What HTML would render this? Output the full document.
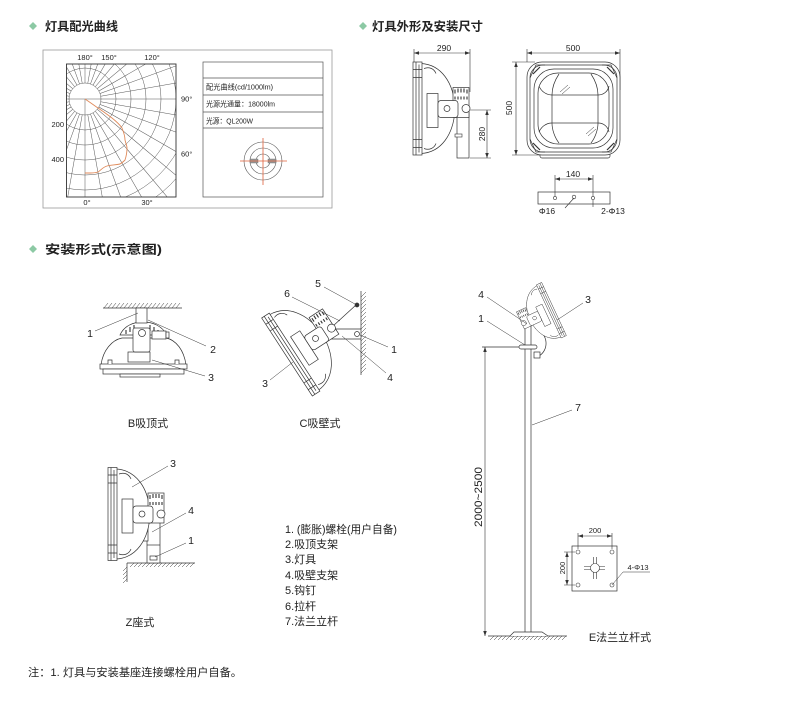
<!DOCTYPE html>
<html><head><meta charset="utf-8">
<style>
html,body{margin:0;padding:0;background:#fff;}
svg{display:block;}
text{font-family:"Liberation Sans","Noto Sans CJK SC",sans-serif;fill:#222;}
.cj{font-family:"Liberation Sans","Noto Sans CJK SC",sans-serif;}
</style></head><body>
<svg width="806" height="710" viewBox="0 0 806 710" xmlns="http://www.w3.org/2000/svg">
<defs>
<marker id="ar" viewBox="0 0 10 10" refX="10" refY="5" markerWidth="5" markerHeight="5" markerUnits="userSpaceOnUse" orient="auto-start-reverse"><path d="M0,1.5 L10,5 L0,8.5z" fill="#333"/></marker>
<clipPath id="pc"><rect x="66.5" y="64" width="109.5" height="133"/></clipPath>
<g id="lamp" stroke="#333" stroke-width="0.7">
  <path d="M8,-45 C28,-44 41,-26 42,0 C41,26 28,44 8,45 Z" fill="#fff"/>
  <path d="M11,-40 C16,-42 21,-40 23,-35 M11,40 C16,42 21,40 23,35" fill="none"/>
  <rect x="14" y="-15" width="11" height="34" fill="none"/>
  <rect x="0" y="-46.5" width="9" height="93" fill="#fff"/>
  <path d="M3,-46.5 V46.5 M6,-44 V44 M0,-39 H9 M0,-31 H9 M0,31 H9 M0,39 H9" fill="none"/>
  <rect x="40" y="-21" width="16" height="30" fill="#fff"/>
  <path d="M42,-19 v4 M45,-20 v4 M48,-20 v4 M51,-20 v4 M54,-19 v4 M42,-12 v3 M45,-12 v3 M48,-12 v3 M51,-12 v3 M54,-12 v3" fill="none" stroke-width="1.1"/>
  <rect x="25" y="-8" width="20" height="17" rx="3" fill="#fff"/>
  <circle cx="34" cy="0" r="3" fill="#fff"/>
  <circle cx="53" cy="0" r="4" fill="#fff"/>
</g>
</defs>

<!-- ===== Titles ===== -->
<polygon points="33,22 37,26 33,30 29,26" fill="#8cc9a4"/>
<text x="45" y="30.5" font-size="12" font-weight="bold" textLength="73" lengthAdjust="spacingAndGlyphs">灯具配光曲线</text>
<polygon points="363,22 367,26 363,30 359,26" fill="#8cc9a4"/>
<text x="372" y="30.5" font-size="12" font-weight="bold" textLength="111" lengthAdjust="spacingAndGlyphs">灯具外形及安装尺寸</text>
<polygon points="33,245 37,249 33,253 29,249" fill="#8cc9a4"/>
<text x="45" y="253.5" font-size="12" font-weight="bold" textLength="117" lengthAdjust="spacingAndGlyphs">安装形式(示意图)</text>

<!-- ===== Polar chart ===== -->
<rect x="43" y="50" width="289" height="158" fill="none" stroke="#999" stroke-width="0.8"/>
<g clip-path="url(#pc)" stroke="#555" stroke-width="0.5" fill="none">
  <circle cx="85" cy="99" r="16"/><circle cx="85" cy="99" r="31"/><circle cx="85" cy="99" r="46"/>
  <circle cx="85" cy="99" r="61"/><circle cx="85" cy="99" r="76"/><circle cx="85" cy="99" r="91"/>
  <circle cx="85" cy="99" r="106"/><circle cx="85" cy="99" r="121"/><circle cx="85" cy="99" r="136"/>
  <line x1="85" y1="99" x2="85" y2="300"/>
  <line x1="85" y1="99" x2="300" y2="99"/>
  <line x1="85" y1="99" x2="-100" y2="99"/>
  <line x1="85" y1="115" x2="85" y2="300" transform="rotate(10 85 99)"/>
  <line x1="85" y1="115" x2="85" y2="300" transform="rotate(20 85 99)"/>
  <line x1="85" y1="115" x2="85" y2="300" transform="rotate(30 85 99)"/>
  <line x1="85" y1="115" x2="85" y2="300" transform="rotate(40 85 99)"/>
  <line x1="85" y1="115" x2="85" y2="300" transform="rotate(50 85 99)"/>
  <line x1="85" y1="115" x2="85" y2="300" transform="rotate(60 85 99)"/>
  <line x1="85" y1="115" x2="85" y2="300" transform="rotate(70 85 99)"/>
  <line x1="85" y1="115" x2="85" y2="300" transform="rotate(80 85 99)"/>
  <line x1="85" y1="115" x2="85" y2="300" transform="rotate(100 85 99)"/>
  <line x1="85" y1="115" x2="85" y2="300" transform="rotate(110 85 99)"/>
  <line x1="85" y1="115" x2="85" y2="300" transform="rotate(120 85 99)"/>
  <line x1="85" y1="115" x2="85" y2="300" transform="rotate(130 85 99)"/>
  <line x1="85" y1="115" x2="85" y2="300" transform="rotate(140 85 99)"/>
  <line x1="85" y1="115" x2="85" y2="300" transform="rotate(150 85 99)"/>
  <line x1="85" y1="115" x2="85" y2="300" transform="rotate(160 85 99)"/>
  <line x1="85" y1="115" x2="85" y2="300" transform="rotate(170 85 99)"/>
  <line x1="85" y1="115" x2="85" y2="300" transform="rotate(180 85 99)"/>
  <line x1="85" y1="115" x2="85" y2="300" transform="rotate(190 85 99)"/>
  <line x1="85" y1="115" x2="85" y2="300" transform="rotate(200 85 99)"/>
  <line x1="85" y1="115" x2="85" y2="300" transform="rotate(210 85 99)"/>
  <line x1="85" y1="115" x2="85" y2="300" transform="rotate(220 85 99)"/>
  <line x1="85" y1="115" x2="85" y2="300" transform="rotate(230 85 99)"/>
  <line x1="85" y1="115" x2="85" y2="300" transform="rotate(240 85 99)"/>
  <line x1="85" y1="115" x2="85" y2="300" transform="rotate(250 85 99)"/>
  <line x1="85" y1="115" x2="85" y2="300" transform="rotate(260 85 99)"/>
  <line x1="85" y1="115" x2="85" y2="300" transform="rotate(280 85 99)"/>
  <line x1="85" y1="115" x2="85" y2="300" transform="rotate(290 85 99)"/>
  <line x1="85" y1="115" x2="85" y2="300" transform="rotate(300 85 99)"/>
  <line x1="85" y1="115" x2="85" y2="300" transform="rotate(310 85 99)"/>
  <line x1="85" y1="115" x2="85" y2="300" transform="rotate(320 85 99)"/>
  <line x1="85" y1="115" x2="85" y2="300" transform="rotate(330 85 99)"/>
  <line x1="85" y1="115" x2="85" y2="300" transform="rotate(340 85 99)"/>
  <line x1="85" y1="115" x2="85" y2="300" transform="rotate(350 85 99)"/>
</g>
<rect x="66.5" y="64" width="109.5" height="133" fill="none" stroke="#333" stroke-width="0.9"/>
<path d="M85,99 C91,103 95,106 98,108 C104,112 108,115 112,118 C117,122 120,125 122,128 C124,133 125,137 125,140 C126,144 127,146 127,148 C127,153 126,157 125,160 C123,162 122,163 120,164 C115,165 111,165 107,166 C103,167 101,170 98,172 C95,173 92,173 90,173 L85,173" fill="none" stroke="#e08a5a" stroke-width="0.9"/>
<g font-size="7.5">
<text x="85" y="60" text-anchor="middle">180°</text>
<text x="109" y="60" text-anchor="middle">150°</text>
<text x="152" y="60" text-anchor="middle">120°</text>
<text x="181" y="101.5">90°</text>
<text x="181" y="156.5">60°</text>
<text x="64" y="127" text-anchor="end">200</text>
<text x="64" y="162" text-anchor="end">400</text>
<text x="87" y="205" text-anchor="middle">0°</text>
<text x="147" y="205" text-anchor="middle">30°</text>
</g>
<!-- table -->
<rect x="203" y="62" width="120" height="135" fill="none" stroke="#555" stroke-width="0.7"/>
<path d="M203,78 H323 M203,95 H323 M203,112 H323 M203,128 H323" stroke="#555" stroke-width="0.7"/>
<g font-size="7.2">
<text x="206" y="89.5" textLength="67" lengthAdjust="spacingAndGlyphs">配光曲线(cd/1000lm)</text>
<text x="206" y="106.5" textLength="69" lengthAdjust="spacingAndGlyphs">光源光通量：18000lm</text>
<text x="206" y="123.5" textLength="47" lengthAdjust="spacingAndGlyphs">光源：QL200W</text>
</g>
<g fill="none" stroke="#555" stroke-width="0.6">
<circle cx="263" cy="161" r="19"/><circle cx="263" cy="161" r="13"/><circle cx="263" cy="161" r="7"/>
</g>
<rect x="250" y="159" width="8" height="4" fill="#999" stroke="#666" stroke-width="0.4"/>
<rect x="268" y="159" width="8" height="4" fill="#999" stroke="#666" stroke-width="0.4"/>
<path d="M240,161 H287 M263,138 V185" stroke="#e0603a" stroke-width="0.8"/>

<!-- ===== Side view ===== -->
<g fill="none" stroke="#333" stroke-width="0.6">
<line x1="414" y1="53" x2="470" y2="53" marker-start="url(#ar)" marker-end="url(#ar)"/>
<path d="M414,49 V62 M470,49 V92"/>
<line x1="487" y1="110" x2="487" y2="158" marker-start="url(#ar)" marker-end="url(#ar)"/>
<path d="M470,110 H491 M470,158 H491"/>
</g>
<rect x="457" y="112" width="12" height="46" fill="#fff" stroke="#333" stroke-width="0.7"/>
<rect x="455" y="134" width="7" height="3" fill="#fff" stroke="#333" stroke-width="0.6"/>
<use href="#lamp" transform="translate(413,108.5)"/>
<g font-size="8.5">
<text x="444" y="51" text-anchor="middle">290</text>
<text x="0" y="0" text-anchor="middle" transform="translate(485,134) rotate(-90)">280</text>
</g>

<!-- ===== Front view ===== -->
<g fill="none" stroke="#333" stroke-width="0.6">
<line x1="527" y1="53" x2="620" y2="53" marker-start="url(#ar)" marker-end="url(#ar)"/>
<path d="M527,49 V62 M620,49 V90"/>
<line x1="516" y1="62" x2="516" y2="155" marker-start="url(#ar)" marker-end="url(#ar)"/>
<path d="M512,62 H535 M512,155 H540"/>
</g>
<rect x="540" y="152" width="70" height="6" rx="2" fill="#fff" stroke="#333" stroke-width="0.7"/>
<g stroke="#333" stroke-width="0.7" fill="none">
<rect x="527" y="62" width="93" height="93" rx="15" fill="#fff"/>
<rect x="530" y="65" width="87" height="87" rx="13"/>
<rect x="534" y="69" width="79" height="79" rx="20"/>
<rect x="538" y="73" width="71" height="71" rx="20"/>
<rect x="552" y="95" width="46" height="28"/>
<path d="M552,95 C546,95 541,91 539,86 M552,123 C546,123 541,127 539,132 M598,95 C604,95 608,91 609,86 M598,123 C604,123 608,127 609,132"/>
<path d="M552,95 C552,88 555,80 559,74 M598,95 C598,88 595,80 591,74 M552,123 C552,130 555,138 559,143 M598,123 C598,130 595,138 591,143"/>
<path d="M530,78 L536,65 L545,65 M617,78 L611,65 L602,65 M530,139 L536,152 L545,152 M617,139 L611,152 L602,152"/>
<path d="M533,74 L540,67 M614,74 L607,67 M533,143 L540,150 M614,143 L607,150" stroke-width="1.2"/>
<path d="M560,92 L568,85 M562,94 L570,87 M586,134 L594,127 M588,136 L596,129" stroke-width="0.5"/>
</g>
<g font-size="8.5">
<text x="573" y="51" text-anchor="middle">500</text>
<text x="0" y="0" text-anchor="middle" transform="translate(512,108) rotate(-90)">500</text>
</g>

<!-- mounting plate -->
<g fill="none" stroke="#333" stroke-width="0.6">
<line x1="555" y1="179" x2="593" y2="179" marker-start="url(#ar)" marker-end="url(#ar)"/>
<path d="M555,175 V196 M593,175 V196"/>
<rect x="538" y="192" width="72" height="12" stroke-width="0.7"/>
<circle cx="555" cy="198" r="1.6"/><circle cx="574" cy="197" r="1.8"/><circle cx="593" cy="198" r="1.6"/>
<path d="M574,198 L565,208 M593,200 V207"/>
</g>
<g font-size="8.5">
<text x="573" y="177" text-anchor="middle">140</text>
<text x="547" y="214" text-anchor="middle">Φ16</text>
<text x="613" y="214" text-anchor="middle">2-Φ13</text>
</g>

<!-- ===== B mount ===== -->
<g stroke="#333" stroke-width="0.7" fill="none">
<path d="M103,308 H182"/>
<path d="M104,308l4,-5M108,308l4,-5M112,308l4,-5M116,308l4,-5M120,308l4,-5M124,308l4,-5M128,308l4,-5M132,308l4,-5M136,308l4,-5M140,308l4,-5M144,308l4,-5M148,308l4,-5M152,308l4,-5M156,308l4,-5M160,308l4,-5M164,308l4,-5M168,308l4,-5M172,308l4,-5M176,308l4,-5" stroke-width="0.5"/>
<path d="M101,365 C103,350 112,340 122,338 L166,338 C176,340 184,350 186,365 Z" fill="#fff"/>
<rect x="128" y="352" width="22" height="10"/>
<path d="M120,335 C124,326 133,322 143,322 C153,322 162,326 167,335 Z" fill="#fff"/>
<path d="M126,330 v4 M130,327 v5 M134,325 v6 M150,325 v6 M154,327 v5 M158,330 v4" stroke-width="1.1"/>
<rect x="136" y="308" width="11" height="15" fill="#fff"/>
<rect x="152" y="331" width="14" height="8" fill="#fff"/>
<rect x="166" y="332" width="3" height="6" fill="#fff"/>
<rect x="133" y="328" width="17" height="24" rx="2" fill="#fff"/>
<circle cx="142" cy="333" r="3.5" fill="#fff"/>
<rect x="100" y="364" width="87" height="5" fill="#fff"/>
<rect x="103" y="369" width="81" height="5" fill="#fff"/>
<rect x="120" y="374" width="40" height="3" fill="#fff"/>
<path d="M108,364 v-4 h4 v4 M175,364 v-4 h4 v4" fill="#fff"/>
<path d="M95,331 L138,313 M206,346 L148,320 M205,376 L152,360" stroke-width="0.5"/>
</g>
<g font-size="10.5">
<text x="90" y="337" text-anchor="middle">1</text>
<text x="213" y="353" text-anchor="middle">2</text>
<text x="211" y="381" text-anchor="middle">3</text>
</g>
<text x="148" y="427" font-size="11" text-anchor="middle">B吸顶式</text>

<!-- ===== C mount ===== -->
<g stroke="#333" stroke-width="0.7" fill="none">
<path d="M361,291 V375"/>
<path d="M361,297l5,-5M361,301l5,-5M361,305l5,-5M361,309l5,-5M361,313l5,-5M361,317l5,-5M361,321l5,-5M361,325l5,-5M361,329l5,-5M361,333l5,-5M361,337l5,-5M361,341l5,-5M361,345l5,-5M361,349l5,-5M361,353l5,-5M361,357l5,-5M361,361l5,-5M361,365l5,-5M361,369l5,-5M361,373l5,-5" stroke-width="0.5"/>
<path d="M333,326 L356,305" />
<path d="M330,329 H361 M330,339 H361"/>
<circle cx="357" cy="334" r="2.5" fill="#fff"/>
<circle cx="357" cy="305" r="2" fill="#333"/>
</g>
<use href="#lamp" transform="translate(287,357) rotate(-33)"/>
<g stroke="#333" stroke-width="0.5" fill="none">
<path d="M324,287 L355,304 M292,297 L340,321 M388,347 L360,335 M386,373 L342,336 M270,380 L293,362"/>
</g>
<g font-size="10.5">
<text x="318" y="287" text-anchor="middle">5</text>
<text x="287" y="297" text-anchor="middle">6</text>
<text x="394" y="353" text-anchor="middle">1</text>
<text x="390" y="381" text-anchor="middle">4</text>
<text x="265" y="387" text-anchor="middle">3</text>
</g>
<text x="320" y="427" font-size="11" text-anchor="middle">C吸壁式</text>

<!-- ===== Z mount ===== -->
<g stroke="#333" stroke-width="0.7" fill="none">
<path d="M127,563 H195 M127,563 V582"/>
<path d="M130,567l4,-4M134,567l4,-4M138,567l4,-4M142,567l4,-4M146,567l4,-4M150,567l4,-4M154,567l4,-4M158,567l4,-4M162,567l4,-4M166,567l4,-4M170,567l4,-4M174,567l4,-4M178,567l4,-4M182,567l4,-4M186,567l4,-4M190,567l4,-4M123,571l4,-4M123,575l4,-4M123,579l4,-4M123,583l4,-4" stroke-width="0.5"/>
<rect x="147" y="510" width="13" height="53" fill="#fff"/>
<path d="M147,545 H160"/>
<rect x="143" y="517" width="5" height="24" fill="#fff"/>
<rect x="150" y="556" width="7" height="4" fill="#fff"/>
</g>
<use href="#lamp" transform="translate(108,514)"/>
<g stroke="#333" stroke-width="0.5" fill="none">
<path d="M168,466 L132,487 M186,513 L152,532 M186,543 L155,557"/>
</g>
<g font-size="10.5">
<text x="173" y="467" text-anchor="middle">3</text>
<text x="191" y="514" text-anchor="middle">4</text>
<text x="191" y="544" text-anchor="middle">1</text>
</g>
<text x="140" y="626" font-size="11" text-anchor="middle">Z座式</text>

<!-- ===== Legend ===== -->
<g font-size="11">
<text x="285" y="533" textLength="112" lengthAdjust="spacingAndGlyphs">1. (膨胀)螺栓(用户自备)</text>
<text x="285" y="548">2.吸顶支架</text>
<text x="285" y="563">3.灯具</text>
<text x="285" y="579">4.吸壁支架</text>
<text x="285" y="594">5.钩钉</text>
<text x="285" y="610">6.拉杆</text>
<text x="285" y="625">7.法兰立杆</text>
</g>

<!-- ===== E pole ===== -->
<g stroke="#333" stroke-width="0.7" fill="none">
<path d="M525,318 V634 M531,318 V634"/>
<path d="M488,636 H567"/>
<path d="M490,640l4,-4M494,640l4,-4M498,640l4,-4M502,640l4,-4M506,640l4,-4M510,640l4,-4M514,640l4,-4M518,640l4,-4M522,640l4,-4M526,640l4,-4M530,640l4,-4M534,640l4,-4M538,640l4,-4M542,640l4,-4M546,640l4,-4M550,640l4,-4M554,640l4,-4M558,640l4,-4M562,640l4,-4" stroke-width="0.5"/>
<path d="M510,636 L514,632 H542 L548,636" fill="#fff"/>
<path d="M482,347 H520"/>
<line x1="485" y1="347" x2="485" y2="636" stroke-width="0.6" marker-start="url(#ar)" marker-end="url(#ar)"/>
<path d="M535,328 C549,334 549,350 539,356" />
<rect x="534" y="352" width="6" height="6" fill="#fff"/>
<rect x="519" y="345" width="18" height="4" rx="2" fill="#fff"/>
</g>
<use href="#lamp" transform="translate(554,309) rotate(-25) scale(-0.63,0.63)"/>
<g stroke="#333" stroke-width="0.5" fill="none">
<path d="M487,297 L527,324 M487,321 L525,345 M583,303 L557,320 M572,410 L532,425"/>
</g>
<g font-size="10.5">
<text x="481" y="298" text-anchor="middle">4</text>
<text x="481" y="322" text-anchor="middle">1</text>
<text x="588" y="303" text-anchor="middle">3</text>
<text x="578" y="411" text-anchor="middle">7</text>
</g>
<text x="0" y="0" font-size="11" text-anchor="middle" textLength="60" lengthAdjust="spacingAndGlyphs" transform="translate(482,497) rotate(-90)">2000~2500</text>

<!-- flange detail -->
<g stroke="#333" stroke-width="0.6" fill="none">
<rect x="572" y="546" width="45" height="45" stroke-width="0.7"/>
<circle cx="578" cy="552" r="2"/><circle cx="612" cy="552" r="2"/>
<circle cx="578" cy="585" r="2"/><circle cx="612" cy="585" r="2"/>
<path d="M584,566.5 H605 M584,569.5 H605 M593.5,557 V579 M596.5,557 V579"/>
<circle cx="595" cy="568" r="4.5" fill="#fff"/>
<line x1="578" y1="536" x2="612" y2="536" marker-start="url(#ar)" marker-end="url(#ar)"/>
<path d="M578,533 V549 M612,533 V549"/>
<line x1="567" y1="552" x2="567" y2="585" marker-start="url(#ar)" marker-end="url(#ar)"/>
<path d="M564,552 H575 M564,585 H575"/>
<path d="M612,585 L623,572 H650" stroke-width="0.5"/>
</g>
<g font-size="7.5">
<text x="595" y="533" text-anchor="middle">200</text>
<text x="0" y="0" text-anchor="middle" transform="translate(565,568) rotate(-90)">200</text>
<text x="638" y="570" text-anchor="middle">4-Φ13</text>
</g>
<text x="620" y="641" font-size="11" text-anchor="middle">E法兰立杆式</text>

<!-- footer -->
<text x="28" y="676" font-size="11" textLength="214" lengthAdjust="spacingAndGlyphs">注：1. 灯具与安装基座连接螺栓用户自备。</text>
</svg>
</body></html>
